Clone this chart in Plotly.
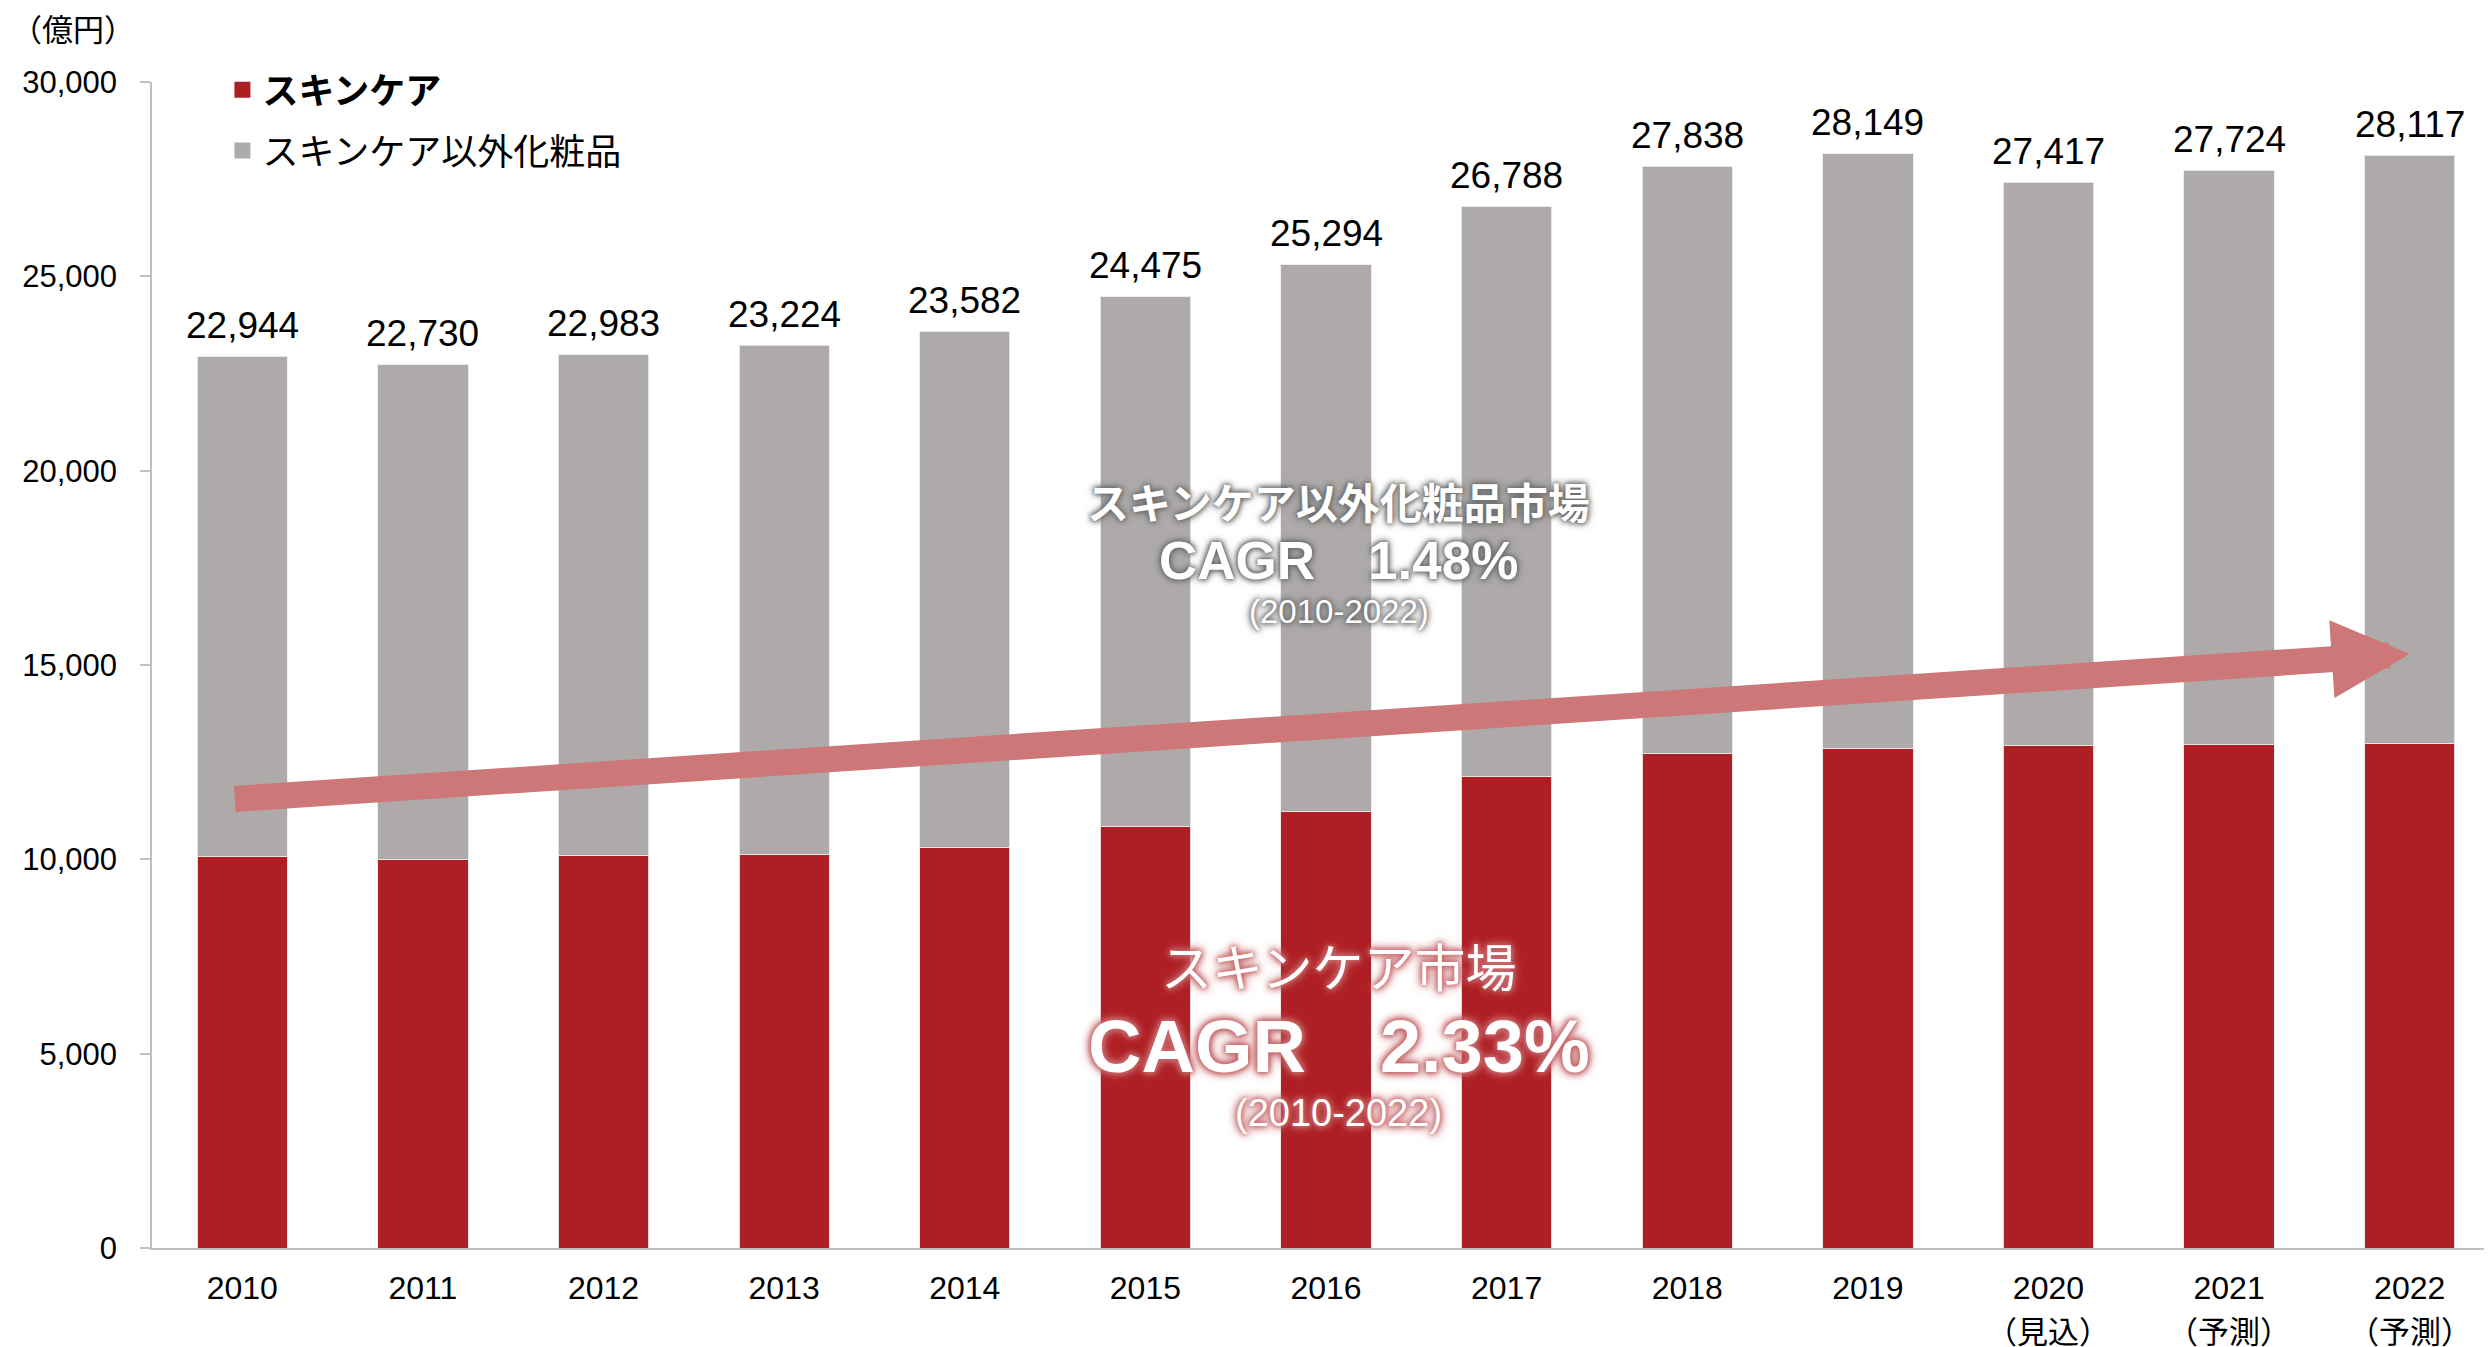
import plotly.graph_objects as go

# ---- data ----
years = [2010, 2011, 2012, 2013, 2014, 2015, 2016, 2017, 2018, 2019, 2020, 2021, 2022]
tick_labels = ["2010", "2011", "2012", "2013", "2014", "2015", "2016", "2017", "2018", "2019",
               "2020", "2021", "2022"]
tick_sublabels = ["", "", "", "", "", "", "", "", "", "", "（見込）", "（予測）", "（予測）"]
totals = [22944, 22730, 22983, 23224, 23582, 24475, 25294, 26788, 27838, 28149, 27417, 27724, 28117]
skincare = [10068, 9983, 10094, 10120, 10300, 10840, 11226, 12126, 12718, 12839, 12924, 12950, 12976]
other = [t - s for t, s in zip(totals, skincare)]
series_names = ["スキンケア", "スキンケア以外化粧品"]
y_ticks = [0, 5000, 10000, 15000, 20000, 25000, 30000]

RED = "#AE1F24"
GRAY = "#AEAAAA"
ARROW = "#CD7778"
AXIS = "#BFBFBF"
FONT = "Liberation Sans, Arial, Noto Sans CJK JP, sans-serif"
EDGE = "rgba(235,235,235,0.9)"

fig = go.Figure()
fig.add_trace(go.Bar(
    x=years, y=skincare, name=series_names[0], showlegend=False,
    marker=dict(color=RED, line=dict(color=EDGE, width=1)), width=0.5,
))
fig.add_trace(go.Bar(
    x=years, y=other, name=series_names[1], showlegend=False,
    marker=dict(color=GRAY, line=dict(color=EDGE, width=1)), width=0.5,
))
# legend entries (square swatches)
fig.add_trace(go.Scatter(
    x=[None], y=[None], mode="markers", name="<b>" + series_names[0] + "</b>",
    marker=dict(symbol="square", size=16, color=RED), legendgroup="a",
))
fig.add_trace(go.Scatter(
    x=[None], y=[None], mode="markers", name=series_names[1],
    marker=dict(symbol="square", size=16, color=GRAY), legendgroup="b",
))

annotations = []
# total labels above bars
for yr, t in zip(years, totals):
    annotations.append(dict(
        x=yr, y=t, xref="x", yref="y", text=f"{t:,}", showarrow=False,
        yanchor="middle", yshift=31, font=dict(size=37, color="#000000", family=FONT),
    ))

# second line of x tick labels
for yr, sub in zip(years, tick_sublabels):
    if sub:
        annotations.append(dict(
            x=yr, y=0, xref="x", yref="paper", text=sub, showarrow=False,
            yanchor="middle", yshift=-84, font=dict(size=31, color="#000000", family=FONT),
        ))

# growth arrow
annotations.append(dict(
    x=2022, y=15283, ax=2009.95, ay=11552, xref="x", yref="y", axref="x", ayref="y",
    text="", showarrow=True, arrowhead=2, arrowwidth=26, arrowsize=0.6,
    arrowcolor=ARROW, standoff=0,
))

gray_glow = "0 0 4px #6a6a6a, 0 0 6px #6a6a6a, 0 0 8px #7a7a7a"
red_glow = "0 0 4px #C86A6D, 0 0 6px #C86A6D, 0 0 9px #C86A6D, 0 0 12px #C86A6D"
cx = 2016.07
annotations += [
    dict(x=cx, y=19117, text="<b>スキンケア以外化粧品市場</b>", showarrow=False, yanchor="middle",
         font=dict(size=42, color="white", family=FONT, shadow=gray_glow)),
    dict(x=cx, y=17676, text="<b>CAGR　1.48%</b>", showarrow=False, yanchor="middle",
         font=dict(size=53, color="white", family=FONT, shadow=gray_glow)),
    dict(x=cx, y=16364, text="(2010-2022)", showarrow=False, yanchor="middle",
         font=dict(size=33, color="white", family=FONT, shadow=gray_glow)),
    dict(x=cx, y=7178, text="スキンケア市場", showarrow=False, yanchor="middle",
         font=dict(size=51, color="white", family=FONT, shadow=red_glow)),
    dict(x=cx, y=5197, text="<b>CAGR　2.33%</b>", showarrow=False, yanchor="middle",
         font=dict(size=74, color="white", family=FONT, shadow=red_glow)),
    dict(x=cx, y=3473, text="(2010-2022)", showarrow=False, yanchor="middle",
         font=dict(size=38, color="white", family=FONT, shadow=red_glow)),
]

# unit label
annotations.append(dict(
    x=-0.0335, y=1.0445, xref="paper", yref="paper", text="（億円）", showarrow=False,
    xanchor="center", yanchor="middle", font=dict(size=31, color="#000000", family=FONT),
))

fig.update_layout(
    width=2492, height=1347,
    margin=dict(l=144, r=0, t=74, b=107),
    barmode="stack",
    plot_bgcolor="white", paper_bgcolor="white",
    font=dict(family=FONT, size=31, color="#000000"),
    showlegend=True,
    legend=dict(
        x=0.030, y=1.019, xanchor="left", yanchor="top",
        traceorder="grouped", tracegroupgap=11,
        font=dict(size=36, color="#000000", family=FONT),
        bgcolor="rgba(0,0,0,0)",
    ),
    xaxis=dict(
        range=[2009.5, 2022.5], tickvals=years, ticktext=tick_labels,
        showline=True, linecolor=AXIS, linewidth=1.5, ticks="",
        showgrid=False, zeroline=False, tickfont=dict(size=32),
        ticklabelstandoff=11,
    ),
    yaxis=dict(
        range=[0, 30000], tickvals=y_ticks, tickformat=",d",
        showline=True, linecolor=AXIS, linewidth=1.5,
        ticks="outside", ticklen=10, tickcolor=AXIS, tickwidth=1.5,
        showgrid=False, zeroline=False, tickfont=dict(size=31),
        ticklabelstandoff=17,
    ),
    annotations=annotations,
)

fig.write_html("out.html")
